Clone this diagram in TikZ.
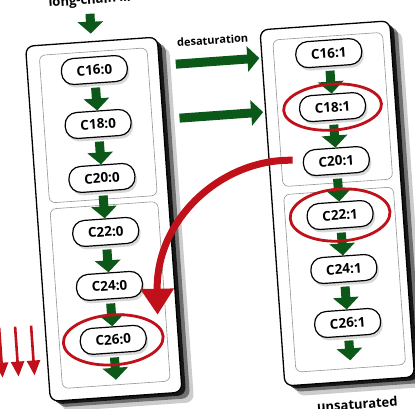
\documentclass[tikz,border=0pt]{standalone}
\usepackage{fontspec}
\setmainfont{Open Sans}
\usetikzlibrary{arrows.meta,shadows}
\definecolor{arrowgreen}{RGB}{12,88,24}
\definecolor{markred}{RGB}{192,16,26}
\definecolor{panelgray}{RGB}{150,150,150}

\begin{document}
\begin{tikzpicture}[x=1pt, y=-1pt,
  outerbox/.style={draw=black, line width=1.3pt, fill=white, rounded corners=8pt,
    drop shadow={shadow xshift=12pt, shadow yshift=-10pt, opacity=0.2, fill=black},
    drop shadow={shadow xshift=8pt, shadow yshift=-6pt, opacity=0.45, fill=black},
    drop shadow={shadow xshift=4pt, shadow yshift=-3pt, opacity=0.8, fill=black}},
  innerbox/.style={draw=panelgray, line width=0.6pt, fill=white, rounded corners=6pt},
  fa/.style={draw=black, line width=1.2pt, fill=white, rounded corners=12pt,
    minimum width=66pt, minimum height=26pt, inner sep=2pt,
    font=\fontsize{13.5}{15}\selectfont\bfseries,
    drop shadow={shadow xshift=2pt, shadow yshift=-3pt, opacity=0.3, fill=gray}},
  garrow/.style={draw=arrowgreen, line width=9pt, -{Triangle[width=25pt,length=12pt]}},
  rarrow/.style={draw=markred, line width=7pt, -{Triangle[width=32pt,length=26pt]}},
  thinred/.style={draw=markred, line width=2.6pt, -{Triangle[width=13pt,length=15pt]}},
  ring/.style={draw=markred, line width=2.8pt},
  label/.style={font=\fontsize{11}{13}\selectfont\bfseries},
  biglabel/.style={font=\fontsize{13}{15}\selectfont\bfseries}]
  \useasboundingbox (0,0) rectangle (415,408);
  \begin{scope}[rotate around={4:(207,204)}, transform shape]
    % the two columns
    \draw[outerbox] (37,34) rectangle (169,390);
    \draw[outerbox] (272,34) rectangle (402,391);
    \draw[innerbox] (50,44) rectangle (158,192);
    \draw[innerbox] (50,198) rectangle (158,378);
    \draw[innerbox] (284,45) rectangle (394,192);
    \draw[innerbox] (284,200) rectangle (394,378);
    \foreach \n [count=\i from 0] in {16,18,...,26} {
      \node[fa] (s\n) at (104,{62.5+54.1*\i}) {C\n:0};
      \node[fa] (u\n) at (339,{62+54.1*\i}) {C\n:1};
    }
    \foreach \a/\b in {16/18,18/20,20/22,22/24,24/26} {
      \draw[garrow, shorten <=4pt] (s\a) -- (s\b);
      \draw[garrow, shorten <=4pt] (u\a) -- (u\b);
    }
    \coordinate (sEnd) at (104,373);
    \coordinate (uEnd) at (339,370);
    \draw[garrow, shorten <=4pt] (s26) -- (sEnd);
    \draw[garrow, shorten <=4pt] (u26) -- (uEnd);
    % input
    \node[biglabel] (chain) at (104,-7) {long-chain ...};
    \coordinate (inBot) at (103,26);
    \draw[garrow, shorten <=3pt] (chain) -- (inBot);
    % desaturation
    \node[label] (desat) at (224,41) {desaturation};
    \draw[garrow, shorten <=48pt, shorten >=36pt] (s16) -- (u16);
    \draw[garrow, shorten <=48pt, shorten >=36pt] (s18) -- (u18);
    % marked species
    \draw[ring] (u18) ellipse [x radius=49, y radius=23];
    \draw[ring] (u22) ellipse [x radius=50, y radius=26];
    \draw[ring] (s26) ellipse [x radius=50, y radius=25];
    \coordinate (redTip) at (150,311);
    \draw[rarrow, shorten <=10pt] (u20) .. controls (225,160) and (155,215) .. (redTip);
    % left edge arrows
    \foreach \x [count=\i] in {-9,7,23} {
      \coordinate (dn\i) at (\x,313);
      \draw[thinred] (dn\i) -- ++(0,50);
    }
    \node[biglabel] (unsat) at (343,414) {unsaturated};
  \end{scope}
\end{tikzpicture}
\end{document}
